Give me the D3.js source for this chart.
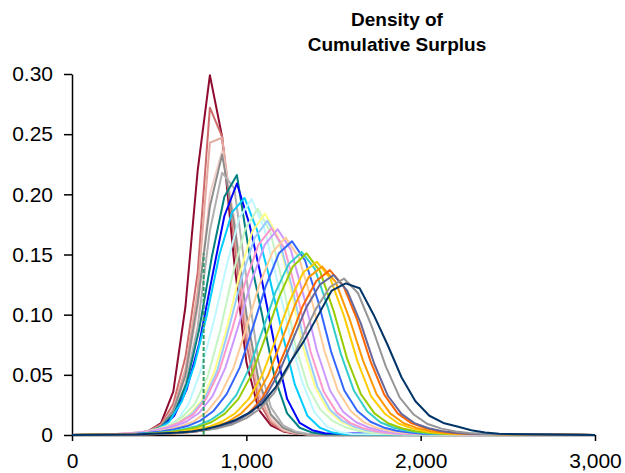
<!DOCTYPE html>
<html>
<head>
<meta charset="utf-8">
<script src="https://cdn.jsdelivr.net/npm/d3@7"></script>
<style>
  body { margin: 0; background: #fff; }
  svg { font-family: "Liberation Sans", Arial, sans-serif; }
</style>
</head>
<body>
<svg width="625" height="473"></svg>
<script>
// one density curve per series
const colors = [
    "#8E0A2E", "#CD6B6B", "#E6A9A0", "#F2CFC8", "#8C8C8C", "#B0B0B0",
    "#008080", "#0000FF", "#00CCFF", "#BDF7FF", "#C4F5C4", "#FFFF88",
    "#99CCFF", "#FF99CC", "#CC99FF", "#FFCC99", "#3366FF", "#33CCCC",
    "#99CC00", "#FFCC00", "#FF9900", "#FF6600", "#666699", "#969696", "#003366"
]

// first x of each series and spacing between its points
const xStart = [231, 301, 371, 371, 371, 371, 370, 370, 342, 382, 201, 242, 256, 244, 280, 250, 287, 343, 409, 468, 499, 465, 408, 440, 370]
const xStep = [70, 70, 70, 70, 70, 70, 72, 72, 72, 72, 72, 72, 72, 75, 75, 75, 75, 75, 78, 78, 78, 78, 78, 80, 80]

const density = [
    [0.0002, 0.0005, 0.0012, 0.0035, 0.010, 0.036, 0.107, 0.22, 0.299, 0.248, 0.143, 0.06, 0.021, 0.008, 0.003, 0.0013, 0.0005],
    [0.0006, 0.0012, 0.0035, 0.009, 0.026, 0.065, 0.135, 0.272, 0.248, 0.16, 0.075, 0.028, 0.010, 0.0035, 0.0012, 0.0004],
    [0.001, 0.003, 0.008, 0.022, 0.055, 0.12, 0.243, 0.247, 0.17, 0.085, 0.034, 0.012, 0.004, 0.0015, 0.0005],
    [0.001, 0.0025, 0.007, 0.02, 0.048, 0.105, 0.20, 0.236, 0.18, 0.095, 0.04, 0.015, 0.005, 0.0018, 0.0006],
    [0.001, 0.0028, 0.0075, 0.02, 0.05, 0.11, 0.19, 0.233, 0.175, 0.10, 0.045, 0.017, 0.006, 0.002, 0.0007],
    [0.0008, 0.002, 0.006, 0.017, 0.042, 0.09, 0.17, 0.218, 0.205, 0.13, 0.06, 0.023, 0.008, 0.003, 0.001],
    [0.001, 0.0025, 0.007, 0.018, 0.043, 0.088, 0.148, 0.198, 0.216, 0.15, 0.10, 0.048, 0.018, 0.006, 0.002, 0.0007],
    [0.0008, 0.002, 0.006, 0.016, 0.038, 0.076, 0.13, 0.182, 0.209, 0.175, 0.128, 0.075, 0.03, 0.01, 0.004, 0.0015],
    [0.0005, 0.0015, 0.004, 0.011, 0.028, 0.058, 0.10, 0.15, 0.185, 0.197, 0.17, 0.13, 0.085, 0.042, 0.016, 0.006, 0.002, 0.0007],
    [0.0005, 0.0015, 0.004, 0.011, 0.026, 0.055, 0.095, 0.14, 0.18, 0.196, 0.172, 0.13, 0.085, 0.045, 0.019, 0.007, 0.0025, 0.0008],
    [0.0005, 0.0009, 0.0017, 0.0028, 0.005, 0.0085, 0.015, 0.026, 0.048, 0.086, 0.133, 0.171, 0.188, 0.169, 0.126, 0.075, 0.040, 0.021, 0.0115, 0.0064, 0.0035, 0.0019, 0.0011, 0.0006],
    [0.0007, 0.0013, 0.002, 0.0035, 0.006, 0.010, 0.017, 0.029, 0.053, 0.090, 0.134, 0.169, 0.184, 0.166, 0.125, 0.075, 0.040, 0.021, 0.0116, 0.0066, 0.0037, 0.002, 0.0012, 0.0006],
    [0.0008, 0.0014, 0.0023, 0.0037, 0.0064, 0.0105, 0.0176, 0.030, 0.053, 0.091, 0.132, 0.164, 0.178, 0.160, 0.122, 0.075, 0.040, 0.021, 0.0117, 0.0066, 0.0037, 0.0021, 0.0012, 0.0007],
    [0.0008, 0.0014, 0.0022, 0.0038, 0.0062, 0.0105, 0.017, 0.030, 0.053, 0.088, 0.127, 0.158, 0.172, 0.155, 0.115, 0.069, 0.036, 0.0186, 0.0101, 0.0057, 0.0031, 0.0017, 0.0009],
    [0.0009, 0.0015, 0.0025, 0.0042, 0.0068, 0.011, 0.0185, 0.032, 0.056, 0.091, 0.128, 0.158, 0.171, 0.154, 0.115, 0.070, 0.037, 0.0193, 0.0106, 0.006, 0.0033, 0.0018, 0.001],
    [0.0006, 0.001, 0.0016, 0.0028, 0.0046, 0.0071, 0.0115, 0.0194, 0.033, 0.055, 0.089, 0.125, 0.152, 0.164, 0.148, 0.112, 0.069, 0.037, 0.0197, 0.0105, 0.0059, 0.0034, 0.0018, 0.001],
    [0.0006, 0.0011, 0.0018, 0.003, 0.0048, 0.0074, 0.012, 0.020, 0.034, 0.056, 0.089, 0.124, 0.151, 0.161, 0.145, 0.111, 0.069, 0.037, 0.020, 0.011, 0.0063, 0.0035, 0.002, 0.0011],
    [0.0007, 0.0012, 0.0019, 0.003, 0.0049, 0.0076, 0.0123, 0.0198, 0.0334, 0.056, 0.087, 0.119, 0.142, 0.152, 0.138, 0.106, 0.067, 0.0365, 0.0198, 0.0106, 0.0062, 0.0035, 0.002, 0.0011],
    [0.0009, 0.0015, 0.0026, 0.0042, 0.0065, 0.0106, 0.0178, 0.030, 0.051, 0.082, 0.115, 0.140, 0.151, 0.136, 0.103, 0.063, 0.034, 0.018, 0.0098, 0.0056, 0.0032, 0.0018, 0.001],
    [0.001, 0.0016, 0.0027, 0.0043, 0.0066, 0.011, 0.018, 0.030, 0.050, 0.080, 0.111, 0.135, 0.144, 0.130, 0.099, 0.061, 0.032, 0.0177, 0.0096, 0.0055, 0.003, 0.0017, 0.001],
    [0.001, 0.0015, 0.0026, 0.0042, 0.0064, 0.0106, 0.0175, 0.029, 0.049, 0.078, 0.108, 0.131, 0.140, 0.127, 0.097, 0.062, 0.034, 0.018, 0.0098, 0.0057, 0.0032, 0.0018, 0.001],
    [0.0006, 0.0011, 0.0017, 0.0027, 0.0044, 0.0069, 0.0111, 0.0178, 0.030, 0.051, 0.078, 0.107, 0.128, 0.137, 0.124, 0.096, 0.061, 0.0336, 0.0178, 0.0099, 0.0058, 0.0033, 0.0018, 0.0011],
    [0.0005, 0.0008, 0.0013, 0.002, 0.0032, 0.0049, 0.0078, 0.0122, 0.0193, 0.032, 0.052, 0.079, 0.106, 0.125, 0.133, 0.120, 0.093, 0.059, 0.0326, 0.0176, 0.0096, 0.0056, 0.0032, 0.0018, 0.001],
    [0.0007, 0.001, 0.0016, 0.0025, 0.0039, 0.0057, 0.0088, 0.014, 0.022, 0.035, 0.056, 0.081, 0.105, 0.123, 0.130, 0.118, 0.090, 0.057, 0.031, 0.017, 0.0091, 0.0053, 0.003, 0.0017, 0.001],
    [0.0005, 0.001, 0.0015, 0.002, 0.003, 0.005, 0.008, 0.012, 0.018, 0.026, 0.040, 0.060, 0.078, 0.099, 0.120, 0.126, 0.122, 0.100, 0.075, 0.048, 0.028, 0.016, 0.010, 0.007, 0.004, 0.002, 0.001]
]

// dashed vertical marker
const markerX = [755, 755]
const markerY = [0, 0.151]

const xDomain = [0, 3000]
const yDomain = [0, 0.30]
const xTicks = [0, 1000, 2000, 3000]
const yTicks = [0, 0.05, 0.10, 0.15, 0.20, 0.25, 0.30]
const titleLines = ["Density of", "Cumulative Surplus"]

const margin = {left: 72, right: 30, top: 74, bottom: 38}
const width = 625, height = 473

const x = d3.scaleLinear().domain(xDomain).range([margin.left, width - margin.right])
const y = d3.scaleLinear().domain(yDomain).range([height - margin.bottom, margin.top])

const svg = d3.select("svg")

// title
svg.append("text")
    .attr("x", 397)
    .attr("y", 26)
    .style("text-anchor", "middle")
    .style("font-weight", "bold")
    .style("font-size", "19px")
    .selectAll("tspan")
    .data(titleLines)
    .enter()
    .append("tspan")
    .attr("x", 397)
    .attr("dy", (d, i) => i == 0 ? 0 : 25)
    .text(d => d)

// axes
const yAxis = d3.axisLeft(y)
    .tickValues(yTicks)
    .tickSize(8)
    .tickSizeOuter(0)
    .tickPadding(11)
    .tickFormat(d => d == 0 ? "0" : d3.format(".2f")(d))

const xAxis = d3.axisBottom(x)
    .tickValues(xTicks)
    .tickSize(6)
    .tickSizeOuter(0)
    .tickPadding(12)
    .tickFormat(d3.format(","))

svg.append("g")
    .attr("transform", `translate(${margin.left}, 0)`)
    .call(yAxis)

svg.append("g")
    .attr("transform", `translate(0, ${height - margin.bottom})`)
    .call(xAxis)

svg.selectAll(".domain, .tick line")
    .style("stroke", "#000")
    .style("stroke-width", 1.5)

svg.selectAll(".tick text")
    .style("font-size", "21px")
    .style("font-family", "'Liberation Sans', Arial, sans-serif")
    .style("fill", "#000")

// curves, padded with zeros out to the ends of the x axis
const line = d3.line()
    .x(d => x(d[0]))
    .y(d => y(d[1]))

const curves = density.map((vals, i) => {
    const pts = vals.map((v, j) => [xStart[i] + j * xStep[i], v])
    return [[xDomain[0], 0], ...pts, [xDomain[1], 0]]
})

svg.append("g")
    .selectAll("path.curve")
    .data(curves)
    .enter()
    .append("path")
    .attr("class", "curve")
    .attr("d", line)
    .style("fill", "none")
    .style("stroke", (d, i) => colors[i])
    .style("stroke-width", 2)
    .style("stroke-linejoin", "round")

svg.append("path")
    .datum(markerX.map((v, i) => [v, markerY[i]]))
    .attr("d", line)
    .style("fill", "none")
    .style("stroke", "#339966")
    .style("stroke-width", 2)
    .style("stroke-dasharray", "4,2")
</script>
</body>
</html>
